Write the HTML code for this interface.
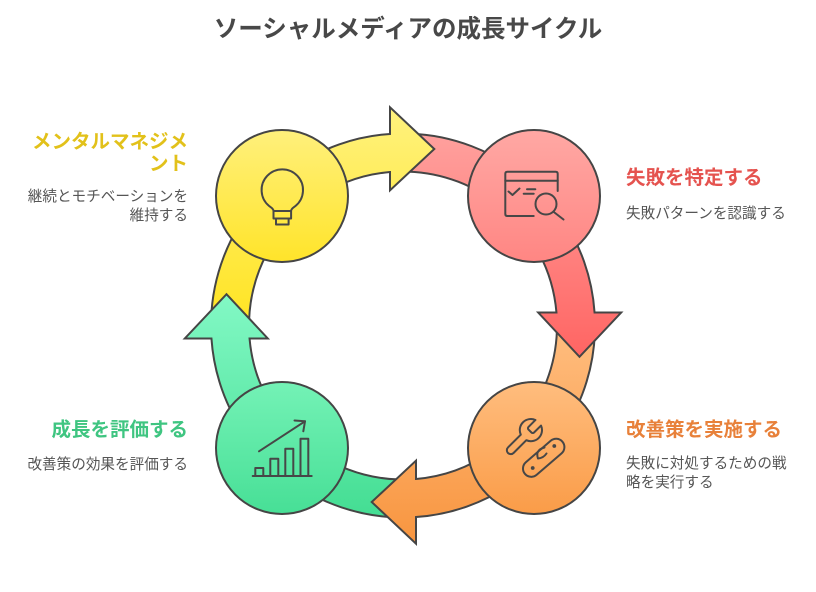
<!DOCTYPE html>
<html>
<head>
<meta charset="utf-8">
<style>
  html, body { margin:0; padding:0; background:#ffffff; }
  #wrap { position:relative; width:816px; height:592px; overflow:hidden; background:#fff;
          font-family:"Liberation Sans","Noto Sans CJK JP",sans-serif; }
  svg { position:absolute; left:0; top:0; }
  .t { position:absolute; white-space:nowrap; }
  .title { left:0; width:816px; text-align:center; top:14.5px; font-size:24.5px; line-height:30px; font-weight:bold; color:#484848; }
  .h { font-size:19.5px; line-height:22px; font-weight:bold; }
  .d { font-size:14.6px; line-height:18.5px; color:#555; }
  .r { right:628px; text-align:right; }
  .l { left:626px; text-align:left; }
</style>
</head>
<body>
<div id="wrap">
<svg width="816" height="592" viewBox="0 0 816 592" xmlns="http://www.w3.org/2000/svg">
  <defs>
    <linearGradient id="sY" gradientUnits="userSpaceOnUse" x1="0" y1="105" x2="0" y2="335">
      <stop offset="0" stop-color="#FFF27F"/><stop offset="1" stop-color="#FFE31E"/>
    </linearGradient>
    <linearGradient id="sR" gradientUnits="userSpaceOnUse" x1="0" y1="120" x2="0" y2="360">
      <stop offset="0" stop-color="#FFA4A1"/><stop offset="1" stop-color="#FF6462"/>
    </linearGradient>
    <linearGradient id="sO" gradientUnits="userSpaceOnUse" x1="0" y1="325" x2="0" y2="545">
      <stop offset="0" stop-color="#FFBE80"/><stop offset="1" stop-color="#F8953F"/>
    </linearGradient>
    <linearGradient id="sG" gradientUnits="userSpaceOnUse" x1="0" y1="290" x2="0" y2="520">
      <stop offset="0" stop-color="#84F9C6"/><stop offset="1" stop-color="#43DD92"/>
    </linearGradient>
    <linearGradient id="cY" x1="0" y1="0" x2="0" y2="1">
      <stop offset="0" stop-color="#FFF07C"/><stop offset="1" stop-color="#FFE42A"/>
    </linearGradient>
    <linearGradient id="cR" x1="0" y1="0" x2="0" y2="1">
      <stop offset="0" stop-color="#FFA8A4"/><stop offset="1" stop-color="#FF8683"/>
    </linearGradient>
    <linearGradient id="cO" x1="0" y1="0" x2="0" y2="1">
      <stop offset="0" stop-color="#FFBD7E"/><stop offset="1" stop-color="#FA9C48"/>
    </linearGradient>
    <linearGradient id="cG" x1="0" y1="0" x2="0" y2="1">
      <stop offset="0" stop-color="#74F2B6"/><stop offset="1" stop-color="#47DF96"/>
    </linearGradient>
  </defs>

  <g stroke="#454545" stroke-width="2" stroke-linejoin="miter">
    <!-- tails -->
    <path fill="url(#sR)" d="M409.70 133.62 A192 192 0 0 1 526.42 178.42 L501.99 207.53 A154 154 0 0 0 408.37 171.59 Z"/>
    <path fill="url(#sO)" d="M594.88 332.2 A192 192 0 0 1 550.08 448.92 L520.97 424.49 A154 154 0 0 0 556.91 330.87 Z"/>
    <path fill="url(#sG)" d="M396.3 517.38 A192 192 0 0 1 279.58 472.58 L304.01 443.47 A154 154 0 0 0 397.63 479.41 Z"/>
    <path fill="url(#sY)" d="M211.12 318.8 A192 192 0 0 1 255.92 202.08 L285.03 226.51 A154 154 0 0 0 249.09 320.13 Z"/>

    <!-- heads -->
    <path fill="url(#sY)" d="M292.87 168.22 A192 192 0 0 1 390 133.94 L390 107.3 L434.3 149 L390 190.3 L390 172.05 A154 154 0 0 0 314.67 199.35 Z"/>
    <path fill="url(#sR)" d="M560.28 215.37 A192 192 0 0 1 594.56 312.5 L621.2 312.5 L579.5 356.8 L538.2 312.5 L556.45 312.5 A154 154 0 0 0 529.15 237.17 Z"/>
    <path fill="url(#sO)" d="M513.13 482.78 A192 192 0 0 1 416 517.06 L416 543.7 L371.7 502 L416 460.7 L416 478.95 A154 154 0 0 0 491.33 451.65 Z"/>
    <path fill="url(#sG)" d="M245.72 435.63 A192 192 0 0 1 211.44 338.5 L184.8 338.5 L226.5 294.2 L267.8 338.5 L249.55 338.5 A154 154 0 0 0 276.85 413.83 Z"/>

    <!-- circles -->
    <circle cx="282" cy="196" r="66" fill="url(#cY)"/>
    <circle cx="534" cy="196" r="66" fill="url(#cR)"/>
    <circle cx="534" cy="448" r="66" fill="url(#cO)"/>
    <circle cx="282" cy="448" r="66" fill="url(#cG)"/>
  </g>

  <!-- icons -->
  <g fill="none" stroke="#474747" stroke-width="2" stroke-linecap="round" stroke-linejoin="round">
    <!-- bulb -->
    <path d="M273.5 211 C273.5 208.5 271 207.5 269 205.9 A20.7 20.7 0 1 1 295.6 205.9 C293.6 207.5 291.1 208.5 291.1 211"/>
    <rect x="273.5" y="211" width="17.6" height="7.5"/>
    <rect x="276" y="218.5" width="12.6" height="6"/>

    <!-- window + magnifier -->
    <path d="M533.7 216 L507.3 216 Q505.3 216 505.3 214 L505.3 173.7 Q505.3 171.7 507.3 171.7 L555.7 171.7 Q557.7 171.7 557.7 173.7 L557.7 191"/>
    <path d="M505.3 180.7 L557.7 180.7"/>
    <path d="M508.5 191.5 L512.5 195 L519.5 188.5"/>
    <path d="M527 189.3 L535.3 189.3"/>
    <path d="M523.7 193.8 L533.7 193.8"/>
    <circle cx="546" cy="204" r="10.5"/>
    <path d="M553.8 212 L563.5 219.5"/>

    <!-- wrench -->
    <g transform="translate(501.3 415.3) scale(1.85)" stroke-width="1.08">
      <path d="M14.7 6.3a1 1 0 0 0 0 1.4l1.6 1.6a1 1 0 0 0 1.4 0l3.77-3.77a6 6 0 0 1-7.94 7.94l-6.91 6.91a2.12 2.12 0 0 1-3-3l6.91-6.91a6 6 0 0 1 7.94-7.94l-3.76 3.76z"/>
    </g>
    <!-- pill -->
    <g transform="rotate(-40.8 543.7 457.8)">
      <rect x="519" y="449.5" width="49.4" height="16.6" rx="8.3"/>
    </g>
    <path d="M544.5 447.5 Q535 450 538 458.5 Q543.5 458 546.5 453.5"/>
    <circle cx="532.7" cy="468" r="0.9" fill="#474747"/>
    <circle cx="554.3" cy="446" r="0.9" fill="#474747"/>

    <!-- chart -->
    <path d="M252.7 476 L311.7 476"/>
    <path d="M255.3 476 L255.3 468 L263.3 468 L263.3 476"/>
    <path d="M270.3 476 L270.3 458.7 L278.3 458.7 L278.3 476"/>
    <path d="M285.3 476 L285.3 448.7 L293.3 448.7 L293.3 476"/>
    <path d="M300.5 476 L300.5 438.7 L308.3 438.7 L308.3 476"/>
    <path d="M259 451.3 L305 421.3"/>
    <path d="M294.5 420.5 L305 421.3 L303.3 431.3"/>
  </g>
</svg>

<div class="t title">ソーシャルメディアの成長サイクル</div>

<div class="t h r" style="top:130.5px; color:#E2C11A;">メンタルマネジメ<br>ント</div>
<div class="t d r" style="top:188px;">継続とモチベーションを<br>維持する</div>

<div class="t h l" style="top:166.5px; color:#E5534F;">失敗を特定する</div>
<div class="t d l" style="top:204.5px;">失敗パターンを認識する</div>

<div class="t h l" style="top:418.5px; color:#E8813A;">改善策を実施する</div>
<div class="t d l" style="top:455px;">失敗に対処するための戦<br>略を実行する</div>

<div class="t h r" style="top:418.5px; color:#3FC581;">成長を評価する</div>
<div class="t d r" style="top:455.5px;">改善策の効果を評価する</div>
</div>
</body>
</html>
